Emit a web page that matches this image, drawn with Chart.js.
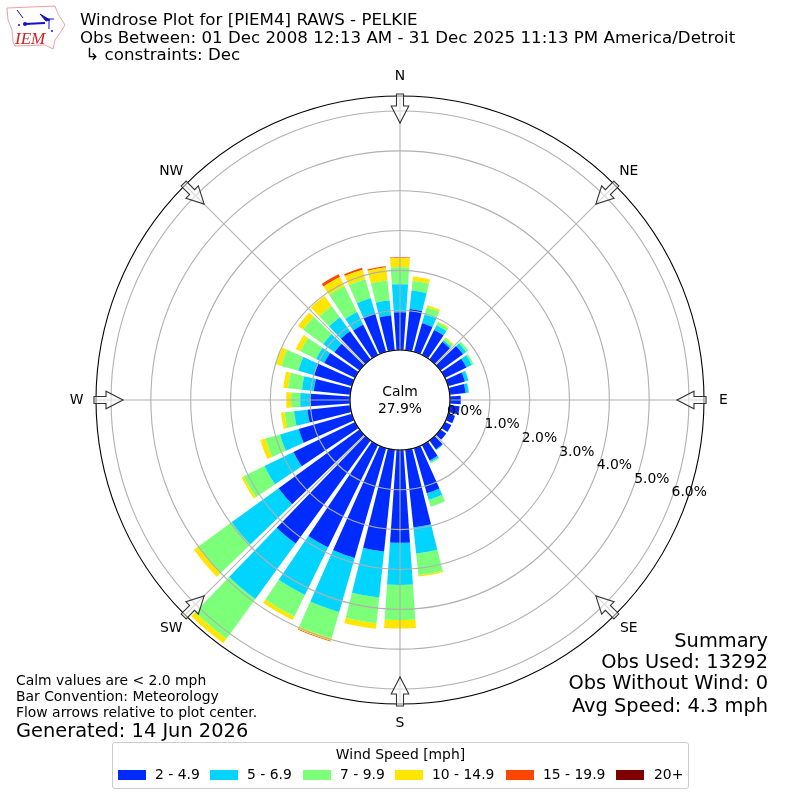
<!DOCTYPE html>
<html>
<head>
<meta charset="utf-8">
<script src="https://cdn.jsdelivr.net/npm/chart.js@4"></script>
<style>
body { margin: 0; background: #fff; font-family: "DejaVu Sans", sans-serif; color: #000; }
#wrap { position: relative; width: 800px; height: 800px; overflow: hidden; }
canvas { position: absolute; left: 0; top: 0; }
.txt { position: absolute; white-space: pre; line-height: 1; }
#legend { position: absolute; left: 112px; top: 742px; width: 575px; height: 45px; border: 1px solid #ccc; border-radius: 3px; background: #fff; }
#legend .ttl { position: absolute; left: 0; right: 0; top: 3px; text-align: center; font-size: 13.9px; }
#legend .sw { position: absolute; top: 27px; width: 28px; height: 10px; }
#legend .lb { position: absolute; top: 23px; font-size: 13.9px; white-space: pre; }
</style>
</head>
<body>
<div id="wrap">
<canvas id="rose" width="800" height="800"></canvas>
<svg style="position:absolute;left:0;top:0" width="70" height="55" viewBox="0 0 70 55">
  <path d="M7 8 L55 6 L58 14 L65 25 L60 33 L55 40 L53 49 L45 45 L15 46 L13 42 L12 30 L8 20 Z" fill="none" stroke="#e88" stroke-width="0.8"/>
  <path d="M25 24 L45 23" fill="none" stroke="#11c" stroke-width="2"/>
  <path d="M40 14 L50 20 L46 21 Z M17 10 L23 18 M45 19 L54 19 M49 19 L49 29" fill="#11c" stroke="#11c" stroke-width="1"/>
  <circle cx="25" cy="24" r="2" fill="#11c"/>
  <circle cx="19" cy="25" r="1" fill="#11c"/>
  <circle cx="52" cy="31" r="1" fill="#11c"/>
  <text x="15" y="44" font-family="Liberation Serif" font-style="italic" font-size="17" fill="#c22">IEM</text>
</svg>
<div class="txt" style="left:80px;top:12px;font-size:16.67px">Windrose Plot for [PIEM4] RAWS - PELKIE</div>
<div class="txt" style="left:80px;top:30px;font-size:16.67px">Obs Between: 01 Dec 2008 12:13 AM - 31 Dec 2025 11:13 PM America/Detroit</div>
<div class="txt" style="left:80px;top:47px;font-size:16.67px"> ↳ constraints: Dec</div>
<div class="txt" style="left:16px;top:674px;font-size:13.9px">Calm values are &lt; 2.0 mph</div>
<div class="txt" style="left:16px;top:690px;font-size:13.9px">Bar Convention: Meteorology</div>
<div class="txt" style="left:16px;top:706px;font-size:13.9px">Flow arrows relative to plot center.</div>
<div class="txt" style="left:16px;top:721px;font-size:19.4px">Generated: 14 Jun 2026</div>
<div class="txt" style="right:32px;top:631px;font-size:19.4px">Summary</div>
<div class="txt" style="right:32px;top:652px;font-size:19.4px">Obs Used: 13292</div>
<div class="txt" style="right:32px;top:673px;font-size:19.4px">Obs Without Wind: 0</div>
<div class="txt" style="right:32px;top:696px;font-size:19.4px">Avg Speed: 4.3 mph</div>
<div class="txt" style="left:300px;width:200px;text-align:center;top:385px;font-size:13.9px">Calm</div>
<div class="txt" style="left:300px;width:200px;text-align:center;top:402px;font-size:13.9px">27.9%</div>
<div id="legend"><div class="ttl">Wind Speed [mph]</div></div>
</div>
<script>
// percent of obs per direction bin, N going clockwise in 10 degree steps
const directions = [0,10,20,30,40,50,60,70,80,90,100,110,120,130,140,150,160,170,180,190,200,210,220,230,240,250,260,270,280,290,300,310,320,330,340,350];
const speed2to4 = [.95,1.04,.75,.70,.55,.70,.60,.44,.40,.27,.25,.18,.18,.18,.28,.43,1.18,1.96,2.33,2.57,2.87,2.86,3.20,2.51,1.72,1.39,1.08,1.00,.92,.99,.86,.78,.88,.85,1.00,.88];
const speed5to6 = [.70,.47,.23,.13,.05,.10,.15,.09,.08,.01,0,0,0,0,.02,.05,.17,.66,1.06,1.16,1.41,1.33,1.72,1.46,.81,.49,.34,.25,.30,.41,.23,.35,.43,.35,.40,.38];
const speed7to9 = [.43,.24,.19,.08,.06,.06,.05,.01,.01,0,0,0,0,0,0,.03,.18,.54,.88,.65,.69,.60,1.23,1.03,.58,.38,.24,.23,.35,.45,.44,.62,.35,.73,.50,.50];
const speed10to14 = [.23,.11,.05,.03,.03,0,0,0,0,0,0,0,0,0,0,0,0,.04,.21,.14,.06,.10,.14,.14,.06,.13,.09,.12,.12,.14,.13,.16,.31,.25,.25,.33];
const speed15to19 = [.02,0,0,0,0,0,0,0,0,0,0,0,0,0,0,0,0,0,0,0,.02,0,0,0,0,0,0,0,0,0,0,0,0,.08,.05,.03];
const speed20up = [0,0,0,0,0,0,0,0,0,0,0,0,0,0,0,0,0,0,0,0,0,0,0,0,0,0,0,0,0,0,0,0,0,0,0,0];

const speedLabels = ['2 - 4.9','5 - 6.9','7 - 9.9','10 - 14.9','15 - 19.9','20+'];
const speedColors = ['#002bff','#00d4ff','#7cff79','#ffe500','#ff4600','#7f0000'];
const speedBins = [speed2to4, speed5to6, speed7to9, speed10to14, speed15to19, speed20up];
const ringTicks = [0,1,2,3,4,5,6];
const compassLabels = ['N','NE','E','SE','S','SW','W','NW'];

const rMin = -1.255;   // value at plot center, leaves the calm hole
const rMax = 6.377;
const barAngle = 8;
const gapAngle = 2;

// polarArea has no stacking: each dataset holds running totals.
// Every direction is followed by an empty slice that makes the gap.
let running = directions.map(() => 0);
const datasets = speedBins.map((bin, i) => {
    running = running.map((v, k) => v + bin[k]);
    const data = [];
    running.forEach(v => { data.push(v); data.push(rMin); });
    return {
        label: speedLabels[i],
        data,
        backgroundColor: speedColors[i],
        borderWidth: 0,
        angle: ctx => (ctx.dataIndex % 2 === 0 ? barAngle : gapAngle)
    };
});
const labels = [];
directions.forEach(d => { labels.push(d + ''); labels.push(''); });

// turn the wedges into ring pieces: each starts where the dataset below it ends
const stackPlugin = {
    id: 'stack',
    afterDatasetsUpdate(chart) {
        const hole = chart.scales.r.getDistanceFromCenterForValue(0);
        datasets.forEach((ds, i) => {
            const arcs = chart.getDatasetMeta(i).data;
            const below = i > 0 ? chart.getDatasetMeta(i - 1).data : null;
            arcs.forEach((arc, k) => {
                if (k % 2 === 0) arc.innerRadius = below ? below[k].outerRadius : hole;
            });
        });
    }
};

const framePlugin = {
    id: 'frame',
    afterDraw(chart) {
        const s = chart.scales.r, ctx = chart.ctx;
        const cx = s.xCenter, cy = s.yCenter;
        const outer = s.getDistanceFromCenterForValue(rMax);
        ctx.save();

        // spokes
        ctx.strokeStyle = '#b0b0b0';
        ctx.lineWidth = 1.1;
        compassLabels.forEach((name, i) => {
            const a = i * Math.PI / 4;
            const r0 = s.getDistanceFromCenterForValue(0);
            ctx.beginPath();
            ctx.moveTo(cx + r0 * Math.sin(a), cy - r0 * Math.cos(a));
            ctx.lineTo(cx + outer * Math.sin(a), cy - outer * Math.cos(a));
            ctx.stroke();
        });

        // hole edge and outer edge
        ctx.strokeStyle = '#000';
        ctx.beginPath();
        ctx.arc(cx, cy, s.getDistanceFromCenterForValue(0), 0, Math.PI * 2);
        ctx.stroke();
        ctx.beginPath();
        ctx.arc(cx, cy, outer, 0, Math.PI * 2);
        ctx.stroke();

        // flow arrows
        compassLabels.forEach((name, i) => {
            ctx.save();
            ctx.translate(cx, cy);
            ctx.rotate(i * Math.PI / 4);
            ctx.beginPath();
            ctx.moveTo(-3.5, -306);
            ctx.lineTo(3.5, -306);
            ctx.lineTo(3.5, -294);
            ctx.lineTo(8.8, -294);
            ctx.lineTo(0, -277);
            ctx.lineTo(-8.8, -294);
            ctx.lineTo(-3.5, -294);
            ctx.closePath();
            ctx.fillStyle = 'rgba(255,255,255,0.5)';
            ctx.fill();
            ctx.strokeStyle = '#333';
            ctx.lineWidth = 1.1;
            ctx.stroke();
            ctx.restore();
        });

        // compass labels
        ctx.fillStyle = '#000';
        ctx.font = '13.9px "DejaVu Sans"';
        ctx.textAlign = 'center';
        ctx.textBaseline = 'middle';
        compassLabels.forEach((name, i) => {
            const a = i * Math.PI / 4;
            ctx.fillText(name, cx + 323.5 * Math.sin(a), cy - 323.5 * Math.cos(a));
        });

        // ring labels
        ctx.textAlign = 'left';
        const t = 20 * Math.PI / 180;
        ringTicks.forEach(v => {
            const r = s.getDistanceFromCenterForValue(v);
            ctx.fillText(v.toFixed(1) + '%', cx + r * Math.cos(t), cy + r * Math.sin(t) - 6);
        });
        ctx.restore();
    }
};

new Chart(document.getElementById('rose'), {
    type: 'polarArea',
    data: { labels, datasets },
    plugins: [stackPlugin, framePlugin],
    options: {
        responsive: false,
        animation: false,
        layout: { padding: 96 },
        plugins: { legend: { display: false }, tooltip: { enabled: false } },
        scales: {
            r: {
                min: rMin,
                max: rMax,
                startAngle: -barAngle / 2,
                afterBuildTicks: scale => { scale.ticks = ringTicks.map(value => ({ value })); },
                ticks: { display: false },
                pointLabels: { display: false },
                angleLines: { display: false },
                grid: { color: '#b0b0b0', lineWidth: 1.1, z: 1 }
            }
        }
    }
});

// legend row built from the speed bins
const legend = document.getElementById('legend');
const swatchLeft = [5, 97, 190, 282, 393, 503];
const labelLeft = [42, 134, 227, 319, 430, 541];
speedLabels.forEach((name, i) => {
    const sw = document.createElement('div');
    sw.className = 'sw';
    sw.style.left = swatchLeft[i] + 'px';
    sw.style.background = speedColors[i];
    legend.appendChild(sw);
    const lb = document.createElement('div');
    lb.className = 'lb';
    lb.style.left = labelLeft[i] + 'px';
    lb.textContent = name;
    legend.appendChild(lb);
});
</script>
</body>
</html>
